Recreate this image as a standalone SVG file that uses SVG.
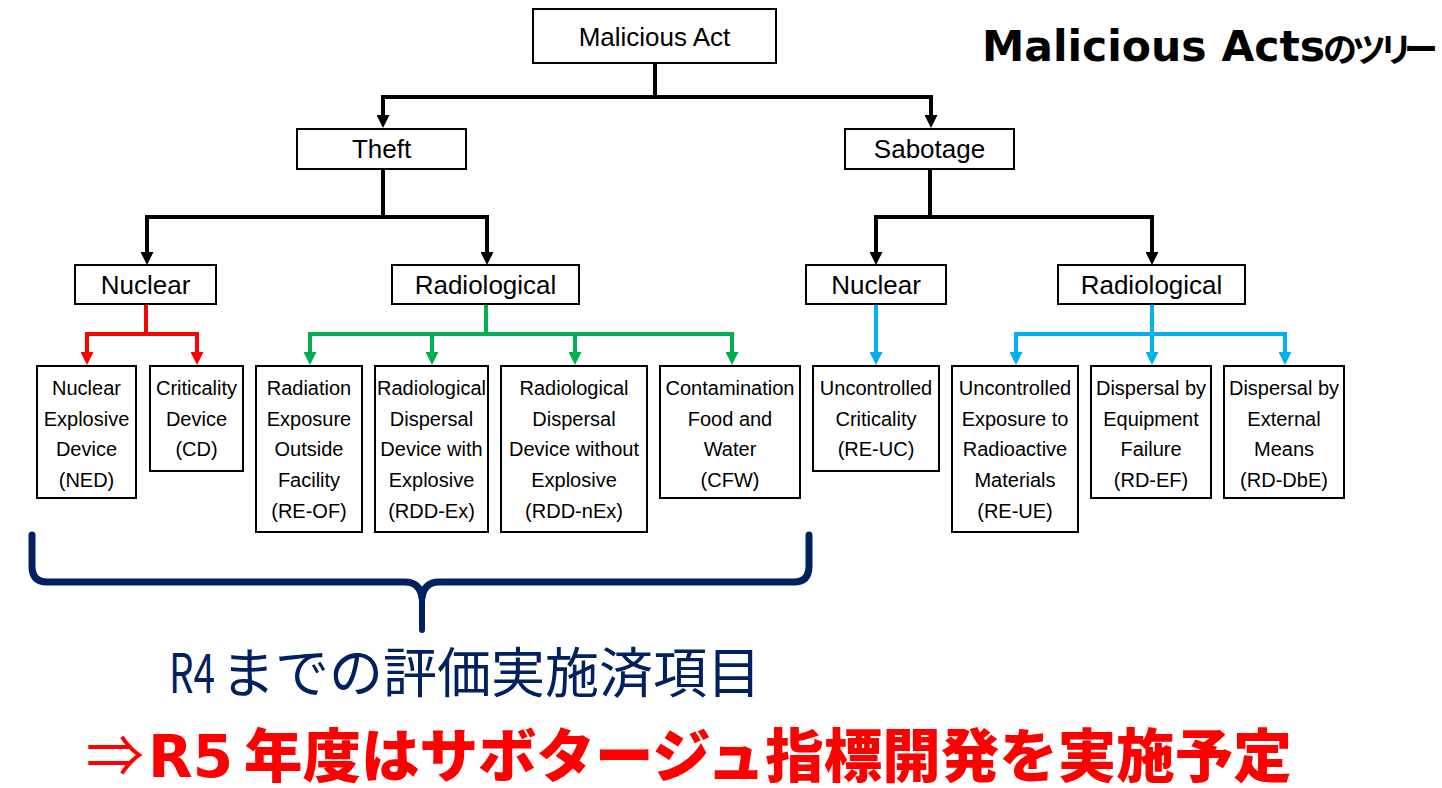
<svg xmlns="http://www.w3.org/2000/svg" width="1442" height="788" viewBox="0 0 1442 788">
<style>
  .box { fill: #FFFFFF; stroke: #000000; stroke-width: 2; }
  .lbl { font-family: "Liberation Sans", Arial, sans-serif; font-size: 26px; fill: #000000; text-anchor: middle; }
  .leaf { font-family: "Liberation Sans", Arial, sans-serif; font-size: 20px; fill: #000000; text-anchor: middle; }
  .con { fill: none; stroke-width: 4; stroke-linejoin: miter; }
  .blk { stroke: #000000; }
  .red { stroke: #FF0000; }
  .grn { stroke: #00B050; }
  .blu { stroke: #00B0F0; }
  .cjk { font-family: "Noto Sans CJK JP", sans-serif; }
</style>
<defs>
  <marker id="aBlk" viewBox="0 0 13 13" refX="3" refY="6.5" markerWidth="13" markerHeight="13" markerUnits="userSpaceOnUse" orient="auto"><path d="M0,0 L13,6.5 L0,13 Z" fill="#000000"/></marker>
  <marker id="aRed" viewBox="0 0 13 13" refX="3" refY="6.5" markerWidth="13" markerHeight="13" markerUnits="userSpaceOnUse" orient="auto"><path d="M0,0 L13,6.5 L0,13 Z" fill="#FF0000"/></marker>
  <marker id="aGrn" viewBox="0 0 13 13" refX="3" refY="6.5" markerWidth="13" markerHeight="13" markerUnits="userSpaceOnUse" orient="auto"><path d="M0,0 L13,6.5 L0,13 Z" fill="#00B050"/></marker>
  <marker id="aBlu" viewBox="0 0 13 13" refX="3" refY="6.5" markerWidth="13" markerHeight="13" markerUnits="userSpaceOnUse" orient="auto"><path d="M0,0 L13,6.5 L0,13 Z" fill="#00B0F0"/></marker>
</defs>
<rect width="1442" height="788" fill="#FFFFFF"/>

<g id="connectors">
  <path class="con blk" d="M655,63 V97 H383 V118" marker-end="url(#aBlk)"/>
  <path class="con blk" d="M655,97 H931 V118" marker-end="url(#aBlk)"/>
  <path class="con blk" d="M383,169 V217 H147 V255" marker-end="url(#aBlk)"/>
  <path class="con blk" d="M383,217 H487 V255" marker-end="url(#aBlk)"/>
  <path class="con blk" d="M930,169 V217 H876 V255" marker-end="url(#aBlk)"/>
  <path class="con blk" d="M930,217 H1152 V255" marker-end="url(#aBlk)"/>
  <path class="con red" d="M146,304 V334 H87 V355" marker-end="url(#aRed)"/>
  <path class="con red" d="M146,334 H197 V355" marker-end="url(#aRed)"/>
  <path class="con grn" d="M486,304 V334 H310 V355" marker-end="url(#aGrn)"/>
  <path class="con grn" d="M486,334 H732 V355" marker-end="url(#aGrn)"/>
  <path class="con grn" d="M432,334 V355" marker-end="url(#aGrn)"/>
  <path class="con grn" d="M575,334 V355" marker-end="url(#aGrn)"/>
  <path class="con blu" d="M876,304 V355" marker-end="url(#aBlu)"/>
  <path class="con blu" d="M1152,304 V334 H1016 V355" marker-end="url(#aBlu)"/>
  <path class="con blu" d="M1152,334 H1285 V355" marker-end="url(#aBlu)"/>
  <path class="con blu" d="M1152,334 V355" marker-end="url(#aBlu)"/>
</g>

<g id="malicious-act"><rect class="box" x="533" y="9" width="243" height="54"/><text class="lbl" x="654.5" y="46">Malicious Act</text></g>
<g id="theft"><rect class="box" x="297" y="129" width="169" height="40"/><text class="lbl" x="381.5" y="158">Theft</text></g>
<g id="sabotage"><rect class="box" x="845" y="129" width="169" height="40"/><text class="lbl" x="929.5" y="158">Sabotage</text></g>
<g id="theft-nuclear"><rect class="box" x="75" y="265" width="141" height="39"/><text class="lbl" x="145.5" y="294">Nuclear</text></g>
<g id="theft-radiological"><rect class="box" x="392" y="265" width="187" height="39"/><text class="lbl" x="485.5" y="294">Radiological</text></g>
<g id="sabotage-nuclear"><rect class="box" x="806" y="265" width="140" height="39"/><text class="lbl" x="876" y="294">Nuclear</text></g>
<g id="sabotage-radiological"><rect class="box" x="1058" y="265" width="187" height="39"/><text class="lbl" x="1151.5" y="294">Radiological</text></g>

<g id="ned"><rect class="box" x="37" y="366" width="99" height="132"/>
  <text class="leaf" x="86.5" y="395">Nuclear</text><text class="leaf" x="86.5" y="426">Explosive</text><text class="leaf" x="86.5" y="456">Device</text><text class="leaf" x="86.5" y="487">(NED)</text></g>
<g id="cd"><rect class="box" x="150" y="366" width="93" height="105"/>
  <text class="leaf" x="196.5" y="395">Criticality</text><text class="leaf" x="196.5" y="426">Device</text><text class="leaf" x="196.5" y="456">(CD)</text></g>
<g id="re-of"><rect class="box" x="256" y="366" width="106" height="166"/>
  <text class="leaf" x="309" y="395">Radiation</text><text class="leaf" x="309" y="426">Exposure</text><text class="leaf" x="309" y="456">Outside</text><text class="leaf" x="309" y="487">Facility</text><text class="leaf" x="309" y="518">(RE-OF)</text></g>
<g id="rdd-ex"><rect class="box" x="375" y="366" width="113" height="166"/>
  <text class="leaf" x="431.5" y="395">Radiological</text><text class="leaf" x="431.5" y="426">Dispersal</text><text class="leaf" x="431.5" y="456">Device with</text><text class="leaf" x="431.5" y="487">Explosive</text><text class="leaf" x="431.5" y="518">(RDD-Ex)</text></g>
<g id="rdd-nex"><rect class="box" x="501" y="366" width="146" height="166"/>
  <text class="leaf" x="574" y="395">Radiological</text><text class="leaf" x="574" y="426">Dispersal</text><text class="leaf" x="574" y="456">Device without</text><text class="leaf" x="574" y="487">Explosive</text><text class="leaf" x="574" y="518">(RDD-nEx)</text></g>
<g id="cfw"><rect class="box" x="660" y="366" width="140" height="132"/>
  <text class="leaf" x="730" y="395">Contamination</text><text class="leaf" x="730" y="426">Food and</text><text class="leaf" x="730" y="456">Water</text><text class="leaf" x="730" y="487">(CFW)</text></g>
<g id="re-uc"><rect class="box" x="813" y="366" width="126" height="105"/>
  <text class="leaf" x="876" y="395">Uncontrolled</text><text class="leaf" x="876" y="426">Criticality</text><text class="leaf" x="876" y="456">(RE-UC)</text></g>
<g id="re-ue"><rect class="box" x="952" y="366" width="126" height="166"/>
  <text class="leaf" x="1015" y="395">Uncontrolled</text><text class="leaf" x="1015" y="426">Exposure to</text><text class="leaf" x="1015" y="456">Radioactive</text><text class="leaf" x="1015" y="487">Materials</text><text class="leaf" x="1015" y="518">(RE-UE)</text></g>
<g id="rd-ef"><rect class="box" x="1091" y="366" width="120" height="132"/>
  <text class="leaf" x="1151" y="395">Dispersal by</text><text class="leaf" x="1151" y="426">Equipment</text><text class="leaf" x="1151" y="456">Failure</text><text class="leaf" x="1151" y="487">(RD-EF)</text></g>
<g id="rd-dbe"><rect class="box" x="1224" y="366" width="120" height="132"/>
  <text class="leaf" x="1284" y="395">Dispersal by</text><text class="leaf" x="1284" y="426">External</text><text class="leaf" x="1284" y="456">Means</text><text class="leaf" x="1284" y="487">(RD-DbE)</text></g>

<g id="title">
  <text x="982" y="61" font-family="'DejaVu Sans', Verdana, sans-serif" font-size="42.5" font-weight="bold" fill="#000000">Malicious Acts</text>
  <text x="1323 1352 1379 1404" y="62" class="cjk" font-size="34" font-weight="bold" fill="#000000">のツリー</text>
</g>

<g id="brace">
  <path d="M32,535 V566 Q32,582 47,582 H405 Q420,582 422,598 Q424,582 439,582 H794 Q809,582 809,566 V535" fill="none" stroke="#002060" stroke-width="7" stroke-linecap="round" stroke-linejoin="round"/>
  <path d="M422,595 V630" fill="none" stroke="#002060" stroke-width="6" stroke-linecap="round"/>
</g>

<g id="note-r4">
  <text x="169" y="693" class="cjk" font-size="54" fill="#002060" textLength="46" lengthAdjust="spacingAndGlyphs">R4</text>
  <text x="221" y="693" class="cjk" font-size="54" fill="#002060">までの評価実施済項目</text>
</g>
<g id="note-r5">
  <text x="86" y="777" class="cjk" font-size="58" fill="#FF0000">⇒</text>
  <text x="148" y="777" font-family="'DejaVu Sans', sans-serif" font-size="58" font-weight="bold" fill="#FF0000">R5</text>
  <text x="244" y="777" class="cjk" font-size="58.5" font-weight="900" fill="#FF0000">年度はサボタージュ指標開発を実施予定</text>
</g>
</svg>
